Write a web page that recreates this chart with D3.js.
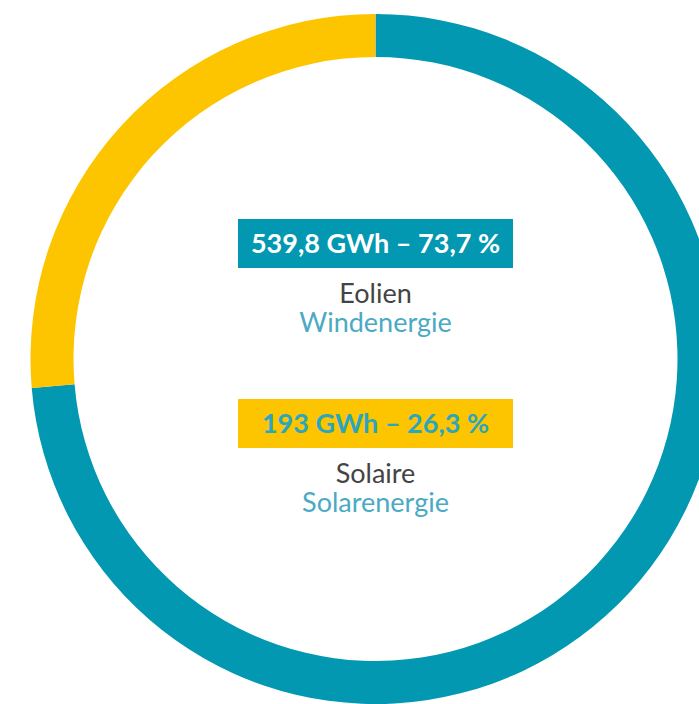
<!DOCTYPE html>
<html>
<head>
<meta charset="utf-8">
<script src="https://cdn.jsdelivr.net/npm/d3@7"></script>
<style>
  body { margin: 0; background: #fff; }
  svg { display: block; }
  text { font-family: Lato, "Open Sans", sans-serif; }
</style>
</head>
<body>
<div id="chart"></div>
<script>
var width = 699, height = 704;

// data
var sources = ["Eolien", "Solaire"];
var sourcesDe = ["Windenergie", "Solarenergie"];
var gwh = [539.8, 193];
var shareLabels = ["539,8 GWh – 73,7 %", "193 GWh – 26,3 %"];

var colors = ["#0398b1", "#fdc400"];
var boxText = ["#ffffff", "#2ba6bf"];

var cx = 375.5, cy = 359, outerR = 345, innerR = 302;

var svg = d3.select("#chart")
  .append("svg")
  .attr("width", width)
  .attr("height", height);

var pie = d3.pie().sort(null).value(d => d);
var arc = d3.arc().innerRadius(innerR).outerRadius(outerR);

var g = svg.append("g").attr("transform", "translate(" + cx + "," + cy + ")");

g.selectAll("path")
  .data(pie(gwh))
  .enter()
  .append("path")
  .attr("d", arc)
  .attr("fill", (d, i) => colors[i]);

// labels in the middle
var boxW = 275, boxH = 49;
var boxTop = [219, 399];

var labels = svg.append("g")
  .selectAll("g")
  .data(sources)
  .enter()
  .append("g")
  .attr("transform", (d, i) => "translate(" + cx + "," + boxTop[i] + ")");

labels.append("rect")
  .attr("x", -boxW / 2)
  .attr("y", 0)
  .attr("width", boxW)
  .attr("height", boxH)
  .attr("fill", (d, i) => colors[i]);

labels.append("text")
  .attr("x", 0)
  .attr("y", 34)
  .attr("text-anchor", "middle")
  .attr("font-size", 27)
  .attr("font-weight", "bold")
  .attr("fill", (d, i) => boxText[i])
  .text((d, i) => shareLabels[i]);

labels.append("text")
  .attr("x", 0)
  .attr("y", 84)
  .attr("text-anchor", "middle")
  .attr("font-size", 27)
  .attr("fill", "#444444")
  .text(d => d);

labels.append("text")
  .attr("x", 0)
  .attr("y", 113)
  .attr("text-anchor", "middle")
  .attr("font-size", 27)
  .attr("fill", "#4aaac3")
  .text((d, i) => sourcesDe[i]);
</script>
</body>
</html>
